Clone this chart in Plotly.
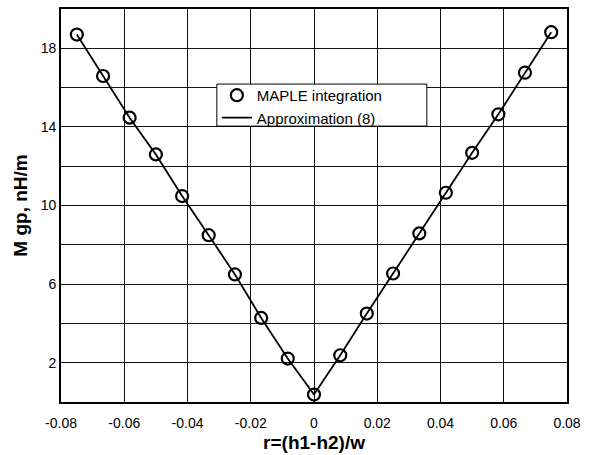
import plotly.graph_objects as go

# Data
r_vals = [-0.075, -0.0667, -0.0583, -0.05, -0.0417, -0.0333, -0.025, -0.0167, -0.0083, 0.0,
          0.0083, 0.0167, 0.025, 0.0333, 0.0417, 0.05, 0.0583, 0.0667, 0.075]
maple_vals = [18.70, 16.59, 14.47, 12.60, 10.48, 8.49, 6.49, 4.28, 2.21, 0.38,
              2.38, 4.50, 6.54, 8.58, 10.65, 12.68, 14.64, 16.76, 18.82]
approx_vals = [18.70, 16.59, 14.47, 12.60, 10.48, 8.49, 6.49, 4.28, 2.21, 0.38,
               2.38, 4.50, 6.54, 8.58, 10.65, 12.68, 14.64, 16.76, 18.82]

x_ticks = [-0.08, -0.06, -0.04, -0.02, 0, 0.02, 0.04, 0.06, 0.08]
x_labels = ["-0.08", "-0.06", "-0.04", "-0.02", "0", "0.02", "0.04", "0.06", "0.08"]
y_ticks = [2, 4, 6, 8, 10, 12, 14, 16, 18]
y_labels = ["2", "", "6", "", "10", "", "14", "", "18"]

fig = go.Figure()
fig.add_trace(go.Scatter(
    x=r_vals, y=maple_vals, mode="markers", name="MAPLE integration",
    marker=dict(symbol="circle-open", size=12, color="black", line=dict(width=2.2, color="black")),
))
fig.add_trace(go.Scatter(
    x=r_vals, y=approx_vals, mode="lines", name="Approximation (8)",
    line=dict(color="black", width=1.8),
))

# legend frame (wider than the entries, as in the reference)
fig.add_shape(type="rect", xref="paper", yref="paper",
              x0=0.308, x1=0.723, y0=0.702, y1=0.809,
              fillcolor="white", line=dict(color="black", width=1), layer="above")

fig.update_layout(
    width=590, height=455,
    margin=dict(l=61, r=23, t=9, b=53),
    paper_bgcolor="white", plot_bgcolor="white",
    font=dict(family="Liberation Sans, Arial, sans-serif", size=14, color="black"),
    legend=dict(
        x=0.308, y=0.822, xanchor="left", yanchor="top",
        bgcolor="rgba(0,0,0,0)", borderwidth=0,
        font=dict(size=15), tracegroupgap=0, itemwidth=30,
    ),
    xaxis=dict(
        range=[-0.08, 0.08], tickvals=x_ticks, ticktext=x_labels,
        showgrid=True, gridcolor="#111111", gridwidth=1.2,
        showline=True, linecolor="black", linewidth=1.6, mirror=True,
        ticks="", zeroline=False, automargin=False, ticklabelstandoff=7,
        title=dict(text="<b>r=(h1-h2)/w</b>", font=dict(size=19), standoff=6),
        tickfont=dict(size=14),
    ),
    yaxis=dict(
        range=[0, 20], tickvals=y_ticks, ticktext=y_labels,
        showgrid=True, gridcolor="#111111", gridwidth=1.2,
        showline=True, linecolor="black", linewidth=1.6, mirror=True,
        ticks="", zeroline=False, automargin=False,
        title=dict(text="<b>M gp, nH/m</b>", font=dict(size=19), standoff=8),
        tickfont=dict(size=14),
    ),
)

fig.write_html("out.html", config={"displayModeBar": False},
               post_script="document.body.style.margin='0';")
